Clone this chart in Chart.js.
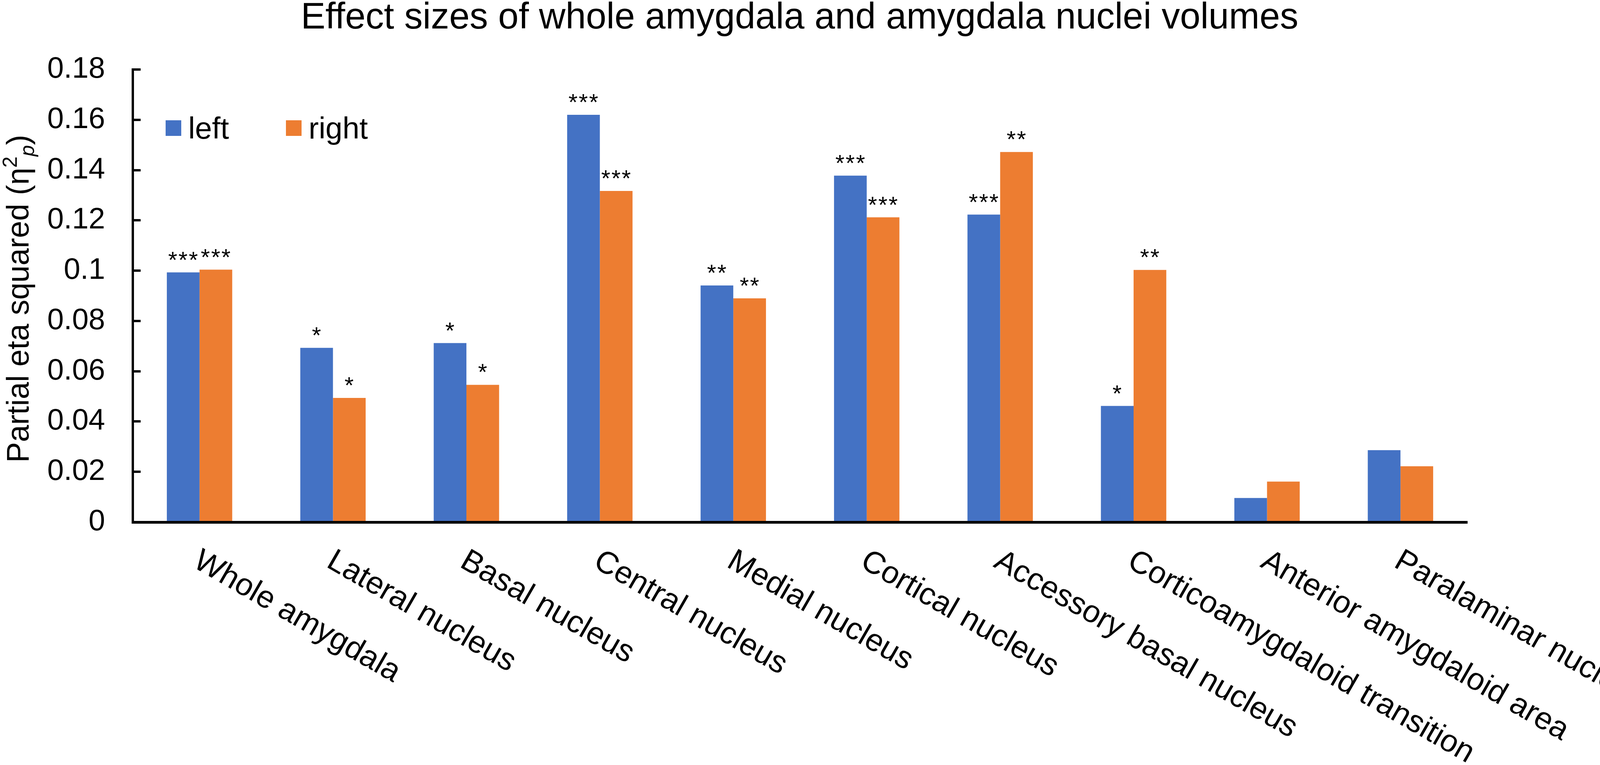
<!DOCTYPE html>
<html>
<head>
<meta charset="utf-8">
<title>Effect sizes of whole amygdala and amygdala nuclei volumes</title>
<script src="https://cdn.jsdelivr.net/npm/chart.js@4.4.1/dist/chart.umd.min.js"></script>
<style>
  html, body { margin: 0; padding: 0; background: #fff; overflow: hidden; }
  #wrap { width: 4219px; height: 1959px; }
</style>
</head>
<body>
<div id="wrap"><canvas id="effect-chart" width="4219" height="1959"></canvas></div>
<script>
// data
const categories = ["Whole amygdala", "Lateral nucleus", "Basal nucleus", "Central nucleus", "Medial nucleus",
  "Cortical nucleus", "Accessory basal nucleus", "Corticoamygdaloid transition", "Anterior amygdaloid area", "Paralaminar nucleus"];
const leftValues  = [0.0993, 0.0693, 0.0712, 0.1620, 0.0941, 0.1378, 0.1223, 0.0462, 0.0096, 0.0286];
const rightValues = [0.1004, 0.0494, 0.0546, 0.1317, 0.0890, 0.1212, 0.1472, 0.1003, 0.0161, 0.0222];
const leftStars  = ["***", "*", "*", "***", "**", "***", "***", "*", "", ""];
const rightStars = ["***", "*", "*", "***", "**", "***", "**", "**", "", ""];
const yTickLabels = ["0", "0.02", "0.04", "0.06", "0.08", "0.1", "0.12", "0.14", "0.16", "0.18"];

const FONT = "'Liberation Sans', Arial, sans-serif";
const BLUE = "#4472C4";
const ORANGE = "#ED7D31";

//stars over the bars
const starPlugin = {
  id: 'stars',
  afterDatasetsDraw(chart) {
    const ctx = chart.ctx;
    const stars = [leftStars, rightStars];
    ctx.save();
    ctx.fillStyle = '#000';
    ctx.font = `60px ${FONT}`;
    ctx.textAlign = 'center';
    ctx.textBaseline = 'alphabetic';
    if ('letterSpacing' in ctx) ctx.letterSpacing = '3px';
    stars.forEach((list, d) => {
      chart.getDatasetMeta(d).data.forEach((bar, i) => {
        if (list[i]) ctx.fillText(list[i], bar.x + 1, bar.y - 12);
      });
    });
    ctx.restore();
  }
};

//title, legend, axis title and slanted category labels
const textPlugin = {
  id: 'texts',
  afterDraw(chart) {
    const ctx = chart.ctx;
    ctx.save();
    ctx.fillStyle = '#000';

    // title
    ctx.font = `94px ${FONT}`;
    ctx.textAlign = 'center';
    ctx.textBaseline = 'alphabetic';
    ctx.fillText("Effect sizes of whole amygdala and amygdala nuclei volumes", 2047, 73);

    // legend inside the plot
    ctx.font = `78px ${FONT}`;
    ctx.textAlign = 'left';
    const items = [[424, 482], [732, 790]];
    chart.data.datasets.forEach((ds, d) => {
      ctx.fillStyle = ds.backgroundColor;
      ctx.fillRect(items[d][0], 308, 40, 40);
      ctx.fillStyle = '#000';
      ctx.fillText(ds.label, items[d][1], 355);
    });

    // y axis title with eta squared p
    const parts = [
      { t: "Partial eta squared (η", s: 79, dy: 0, it: false },
      { t: "2", s: 52, dy: -30, it: false },
      { t: "p", s: 52, dy: 14, it: true },
      { t: ")", s: 79, dy: 0, it: false }
    ];
    let total = 0;
    parts.forEach(p => {
      ctx.font = `${p.it ? 'italic ' : ''}${p.s}px ${FONT}`;
      p.w = ctx.measureText(p.t).width;
      total += p.w;
    });
    ctx.translate(73, 765);
    ctx.rotate(-Math.PI / 2);
    let x = -total / 2;
    parts.forEach(p => {
      ctx.font = `${p.it ? 'italic ' : ''}${p.s}px ${FONT}`;
      ctx.fillText(p.t, x, p.dy);
      x += p.w;
    });
    ctx.setTransform(1, 0, 0, 1, 0, 0);

    // category labels, slanted down to the right
    const xs = chart.scales.x;
    ctx.font = `80px ${FONT}`;
    ctx.textAlign = 'left';
    categories.forEach((c, i) => {
      const cx = xs.getPixelForValue(i);
      ctx.save();
      ctx.translate(cx - 20, 1450);
      ctx.rotate(Math.PI / 6);
      ctx.fillText(c, 0, 0);
      ctx.restore();
    });
    ctx.restore();
  }
};

const chartCanvas = document.getElementById('effect-chart');

const chartData = {
  labels: categories,
  datasets: [{
    label: 'left',
    data: leftValues,
    backgroundColor: BLUE,
    borderWidth: 0,
    categoryPercentage: 0.49,
    barPercentage: 1.0
  }, {
    label: 'right',
    data: rightValues,
    backgroundColor: ORANGE,
    borderWidth: 0,
    categoryPercentage: 0.49,
    barPercentage: 1.0
  }]
};

const chartOptions = {
  responsive: false,
  animation: false,
  devicePixelRatio: 1,
  layout: {
    padding: { top: 178, right: 463, bottom: 0, left: 0 }
  },
  plugins: {
    legend: { display: false },
    title: { display: false },
    tooltip: { enabled: false }
  },
  scales: {
    x: {
      z: 1,
      grid: { display: false },
      border: { display: true, color: '#000', width: 7 },
      ticks: { display: false },
      afterFit: s => { s.height = 622; }
    },
    y: {
      min: 0,
      max: 0.18,
      ticks: {
        stepSize: 0.02,
        callback: (v, i) => yTickLabels[i],
        color: '#000',
        font: { size: 76, family: FONT },
        padding: 91
      },
      grid: {
        drawOnChartArea: false,
        drawTicks: true,
        tickLength: -20,
        color: '#000',
        lineWidth: 6
      },
      border: { display: true, color: '#000', width: 6 },
      afterFit: s => { s.width = 340; }
    }
  }
};

let effectChart = new Chart(chartCanvas, {
  type: 'bar',
  data: chartData,
  options: chartOptions,
  plugins: [starPlugin, textPlugin]
});
</script>
</body>
</html>
